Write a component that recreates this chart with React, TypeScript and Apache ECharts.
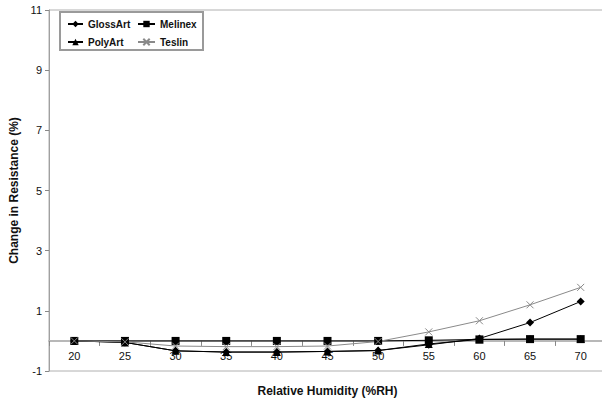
import React, { useEffect, useRef } from "react";
import * as echarts from "echarts";

const categories = ["20", "25", "30", "35", "40", "45", "50", "55", "60", "65", "70"];
const glossArt = [0, -0.05, -0.33, -0.37, -0.37, -0.35, -0.32, -0.13, 0.08, 0.61, 1.31];
const melinex = [0, 0, 0, 0, 0, 0, 0, 0.02, 0.05, 0.06, 0.06];
const polyArt = [0, -0.05, -0.33, -0.37, -0.37, -0.35, -0.32, -0.1, 0.05, 0.06, 0.06];
const teslin = [0, -0.03, -0.17, -0.19, -0.19, -0.17, -0.02, 0.3, 0.67, 1.2, 1.78];
const yMin = -1;
const yMax = 11;
const yStep = 2;

const FONT = "'Liberation Sans', Arial, sans-serif";

export default function App() {
  const ref = useRef<HTMLDivElement>(null);
  useEffect(() => {
    if (!ref.current) return;
    const chart = echarts.init(ref.current, undefined, { renderer: "svg" });
    const gridLeft = 49;
    const gridTop = 10;
    const gridW = 557;
    const gridH = 361;
    const zeroH = (gridH * yMax) / (yMax - yMin);
    const lineSeries = (name: string, data: number[], symbol: string, size: number, color: string) => ({
      name,
      type: "line",
      xAxisIndex: 0,
      yAxisIndex: 0,
      data,
      symbol,
      symbolSize: size,
      lineStyle: { color, width: 1 },
      itemStyle: { color, borderColor: color, borderWidth: symbol.startsWith("path") ? 1 : 0 },
      emphasis: { disabled: true },
    });
    const legendText = { fontFamily: FONT, fontSize: 10, fontWeight: "bold", color: "#111", lineHeight: 12 };
    chart.setOption({
      animation: false,
      backgroundColor: "#fff",
      textStyle: { fontFamily: FONT },
      grid: [
        {
          left: gridLeft,
          top: gridTop,
          width: gridW,
          height: gridH,
          show: true,
          borderColor: "#b0b0b0",
          borderWidth: 1,
          containLabel: false,
          outerBoundsMode: "none",
        },
        {
          left: gridLeft,
          top: gridTop,
          width: gridW,
          height: zeroH,
          show: false,
          containLabel: false,
          outerBoundsMode: "none",
        },
      ],
      graphic: [
        {
          type: "rect",
          z: 1,
          shape: { x: 60, y: 12, width: 143, height: 38 },
          style: { fill: "#fff", stroke: "#9a9a9a", lineWidth: 2 },
        },
      ],
      legend: [
        {
          data: ["GlossArt", "PolyArt"],
          orient: "vertical",
          left: 62,
          top: 13,
          itemWidth: 15,
          itemHeight: 8,
          itemGap: 6,
          z: 5,
          textStyle: legendText,
        },
        {
          data: ["Melinex", "Teslin"],
          orient: "vertical",
          left: 132,
          top: 13,
          itemWidth: 17,
          itemHeight: 8,
          itemGap: 6,
          z: 5,
          textStyle: legendText,
        },
      ],
      xAxis: [
        {
          type: "category",
          gridIndex: 0,
          data: categories,
          boundaryGap: true,
          axisLine: { show: false },
          axisTick: { show: false },
          axisLabel: { show: false },
          splitLine: { show: false },
        },
        {
          type: "category",
          gridIndex: 1,
          data: categories,
          boundaryGap: true,
          position: "bottom",
          name: "Relative Humidity (%RH)",
          nameLocation: "middle",
          nameGap: 44,
          nameTextStyle: { fontFamily: FONT, fontSize: 12, fontWeight: "bold", color: "#111" },
          axisLine: { onZero: false, lineStyle: { color: "#b8b8b8", width: 2 } },
          axisTick: { show: true, alignWithLabel: false, length: 5, lineStyle: { color: "#888" } },
          axisLabel: { margin: 10, fontSize: 11, color: "#111", fontFamily: FONT },
          splitLine: { show: false },
        },
      ],
      yAxis: [
        {
          type: "value",
          gridIndex: 0,
          min: yMin,
          max: yMax,
          show: false,
          splitLine: { show: false },
        },
        {
          type: "value",
          gridIndex: 0,
          position: "left",
          min: 0,
          max: yMax - yMin,
          interval: yStep,
          name: "Change in Resistance (%)",
          nameLocation: "middle",
          nameGap: 29,
          nameTextStyle: { fontFamily: FONT, fontSize: 12, fontWeight: "bold", color: "#111" },
          axisLine: { show: true, lineStyle: { color: "#a0a0a0", width: 1 } },
          axisTick: { show: true, length: 4, lineStyle: { color: "#888" } },
          axisLabel: {
            margin: 7,
            fontSize: 11,
            color: "#111",
            fontFamily: FONT,
            formatter: (v: number) => String(v + yMin),
          },
          splitLine: { show: false },
        },
        {
          type: "value",
          gridIndex: 1,
          min: 0,
          max: 1,
          show: false,
          splitLine: { show: false },
        },
      ],
      series: [
        lineSeries("GlossArt", glossArt, "diamond", 8, "#000"),
        lineSeries("Melinex", melinex, "rect", 8, "#000"),
        lineSeries("PolyArt", polyArt, "triangle", 8, "#000"),
        lineSeries("Teslin", teslin, "path://M0,0L10,10M10,0L0,10", 7, "#8a8a8a"),
      ],
    });
    return () => chart.dispose();
  }, []);
  return (
    <div
      ref={ref}
      style={{ position: "fixed", left: 0, top: 0, width: 602, height: 407, background: "#fff" }}
    />
  );
}
